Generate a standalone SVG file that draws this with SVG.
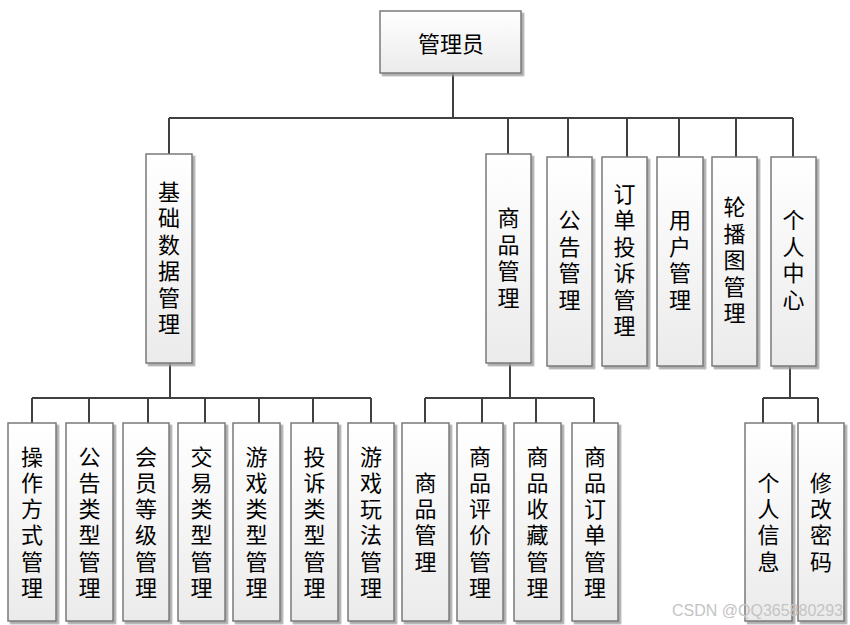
<svg xmlns="http://www.w3.org/2000/svg" width="850" height="625" viewBox="0 0 850 625">
<defs>
<linearGradient id="g" x1="0" y1="0" x2="0" y2="1">
<stop offset="0" stop-color="#ffffff"/>
<stop offset="1" stop-color="#ebebeb"/>
</linearGradient>
<filter id="sh" x="-20%" y="-10%" width="140%" height="120%">
<feDropShadow dx="2.5" dy="2.5" stdDeviation="0.6" flood-color="#9a9a9a" flood-opacity="0.8"/>
</filter>
<style>
.box{fill:url(#g);stroke:#7a7a7a;stroke-width:1.5;filter:url(#sh)}
.t{font-family:"Noto Sans CJK SC","Noto Sans",sans-serif;font-size:22px;fill:#000;text-anchor:middle;dominant-baseline:central}
.v{font-family:"Noto Sans CJK SC","Noto Sans",sans-serif;font-size:22px;fill:#000;text-anchor:middle;writing-mode:vertical-rl;letter-spacing:4.5px}
.s{letter-spacing:4.2px}
.c{fill:none;stroke:#404040;stroke-width:2}
.wm{font-family:"Liberation Sans",Arial,sans-serif;font-size:16px;fill:#c4c4c4}
</style>
</defs>
<rect width="850" height="625" fill="#fff"/>

<g id="connectors">
<path class="c" d="M453,73V118M169,118H793M169,118V154M508,118V154M568,118V157M627,118V157M679,118V157M736,118V157M793,118V157"/>
<path class="c" d="M170,363V398M32,398H371M32,398V423M89,398V423M148,398V423M205,398V423M259,398V423M313,398V423M371,398V423"/>
<path class="c" d="M510,363V398M425,398H594M425,398V423M482,398V423M536,398V423M594,398V423"/>
<path class="c" d="M790,366V398M763,398H818M763,398V423M818,398V423"/>
</g>

<g id="n_root"><rect class="box" x="380" y="11" width="141" height="62"/><text class="t" x="451" y="42">管理员</text></g>

<g id="n_jichu"><rect class="box" x="146" y="154" width="46" height="209"/><text class="v" x="169" y="260">基础数据管理</text></g>
<g id="n_shangpin"><rect class="box" x="486" y="154" width="45" height="209"/><text class="v" x="508.5" y="260">商品管理</text></g>
<g id="n_gonggao"><rect class="box" x="547" y="157" width="45" height="209"/><text class="v" x="569.5" y="262">公告管理</text></g>
<g id="n_dingdan"><rect class="box" x="602" y="157" width="45" height="209"/><text class="v" x="624.5" y="262">订单投诉管理</text></g>
<g id="n_yonghu"><rect class="box" x="657" y="157" width="46" height="209"/><text class="v" x="680" y="262">用户管理</text></g>
<g id="n_lunbo"><rect class="box" x="712" y="157" width="45" height="209"/><text class="v" x="734.5" y="262">轮播图管理</text></g>
<g id="n_geren"><rect class="box" x="771" y="157" width="45" height="209"/><text class="v" x="793.5" y="262">个人中心</text></g>

<g id="n_caozuo"><rect class="box" x="8" y="423" width="48" height="198"/><text class="v s" x="32" y="524">操作方式管理</text></g>
<g id="n_gglx"><rect class="box" x="66" y="423" width="47" height="198"/><text class="v s" x="89.5" y="524">公告类型管理</text></g>
<g id="n_hydj"><rect class="box" x="123" y="423" width="46" height="198"/><text class="v s" x="146" y="524">会员等级管理</text></g>
<g id="n_jylx"><rect class="box" x="178" y="423" width="47" height="198"/><text class="v s" x="201.5" y="524">交易类型管理</text></g>
<g id="n_yxlx"><rect class="box" x="233" y="423" width="47" height="198"/><text class="v s" x="256.5" y="524">游戏类型管理</text></g>
<g id="n_tslx"><rect class="box" x="291" y="423" width="47" height="198"/><text class="v s" x="314.5" y="524">投诉类型管理</text></g>
<g id="n_yxwf"><rect class="box" x="348" y="423" width="46" height="198"/><text class="v s" x="371" y="524">游戏玩法管理</text></g>

<g id="n_spgl"><rect class="box" x="402" y="423" width="47" height="198"/><text class="v s" x="425.5" y="524">商品管理</text></g>
<g id="n_sppj"><rect class="box" x="457" y="423" width="46" height="198"/><text class="v s" x="480" y="524">商品评价管理</text></g>
<g id="n_spsc"><rect class="box" x="514" y="423" width="47" height="198"/><text class="v s" x="537.5" y="524">商品收藏管理</text></g>
<g id="n_spdd"><rect class="box" x="572" y="423" width="46" height="198"/><text class="v s" x="595" y="524">商品订单管理</text></g>

<g id="n_grxx"><rect class="box" x="745" y="423" width="47" height="198"/><text class="v s" x="768.5" y="524">个人信息</text></g>
<g id="n_xgmm"><rect class="box" x="798" y="423" width="46" height="198"/><text class="v s" x="821" y="524">修改密码</text></g>

<text class="wm" x="672" y="616">CSDN @QQ365880293</text>
</svg>
